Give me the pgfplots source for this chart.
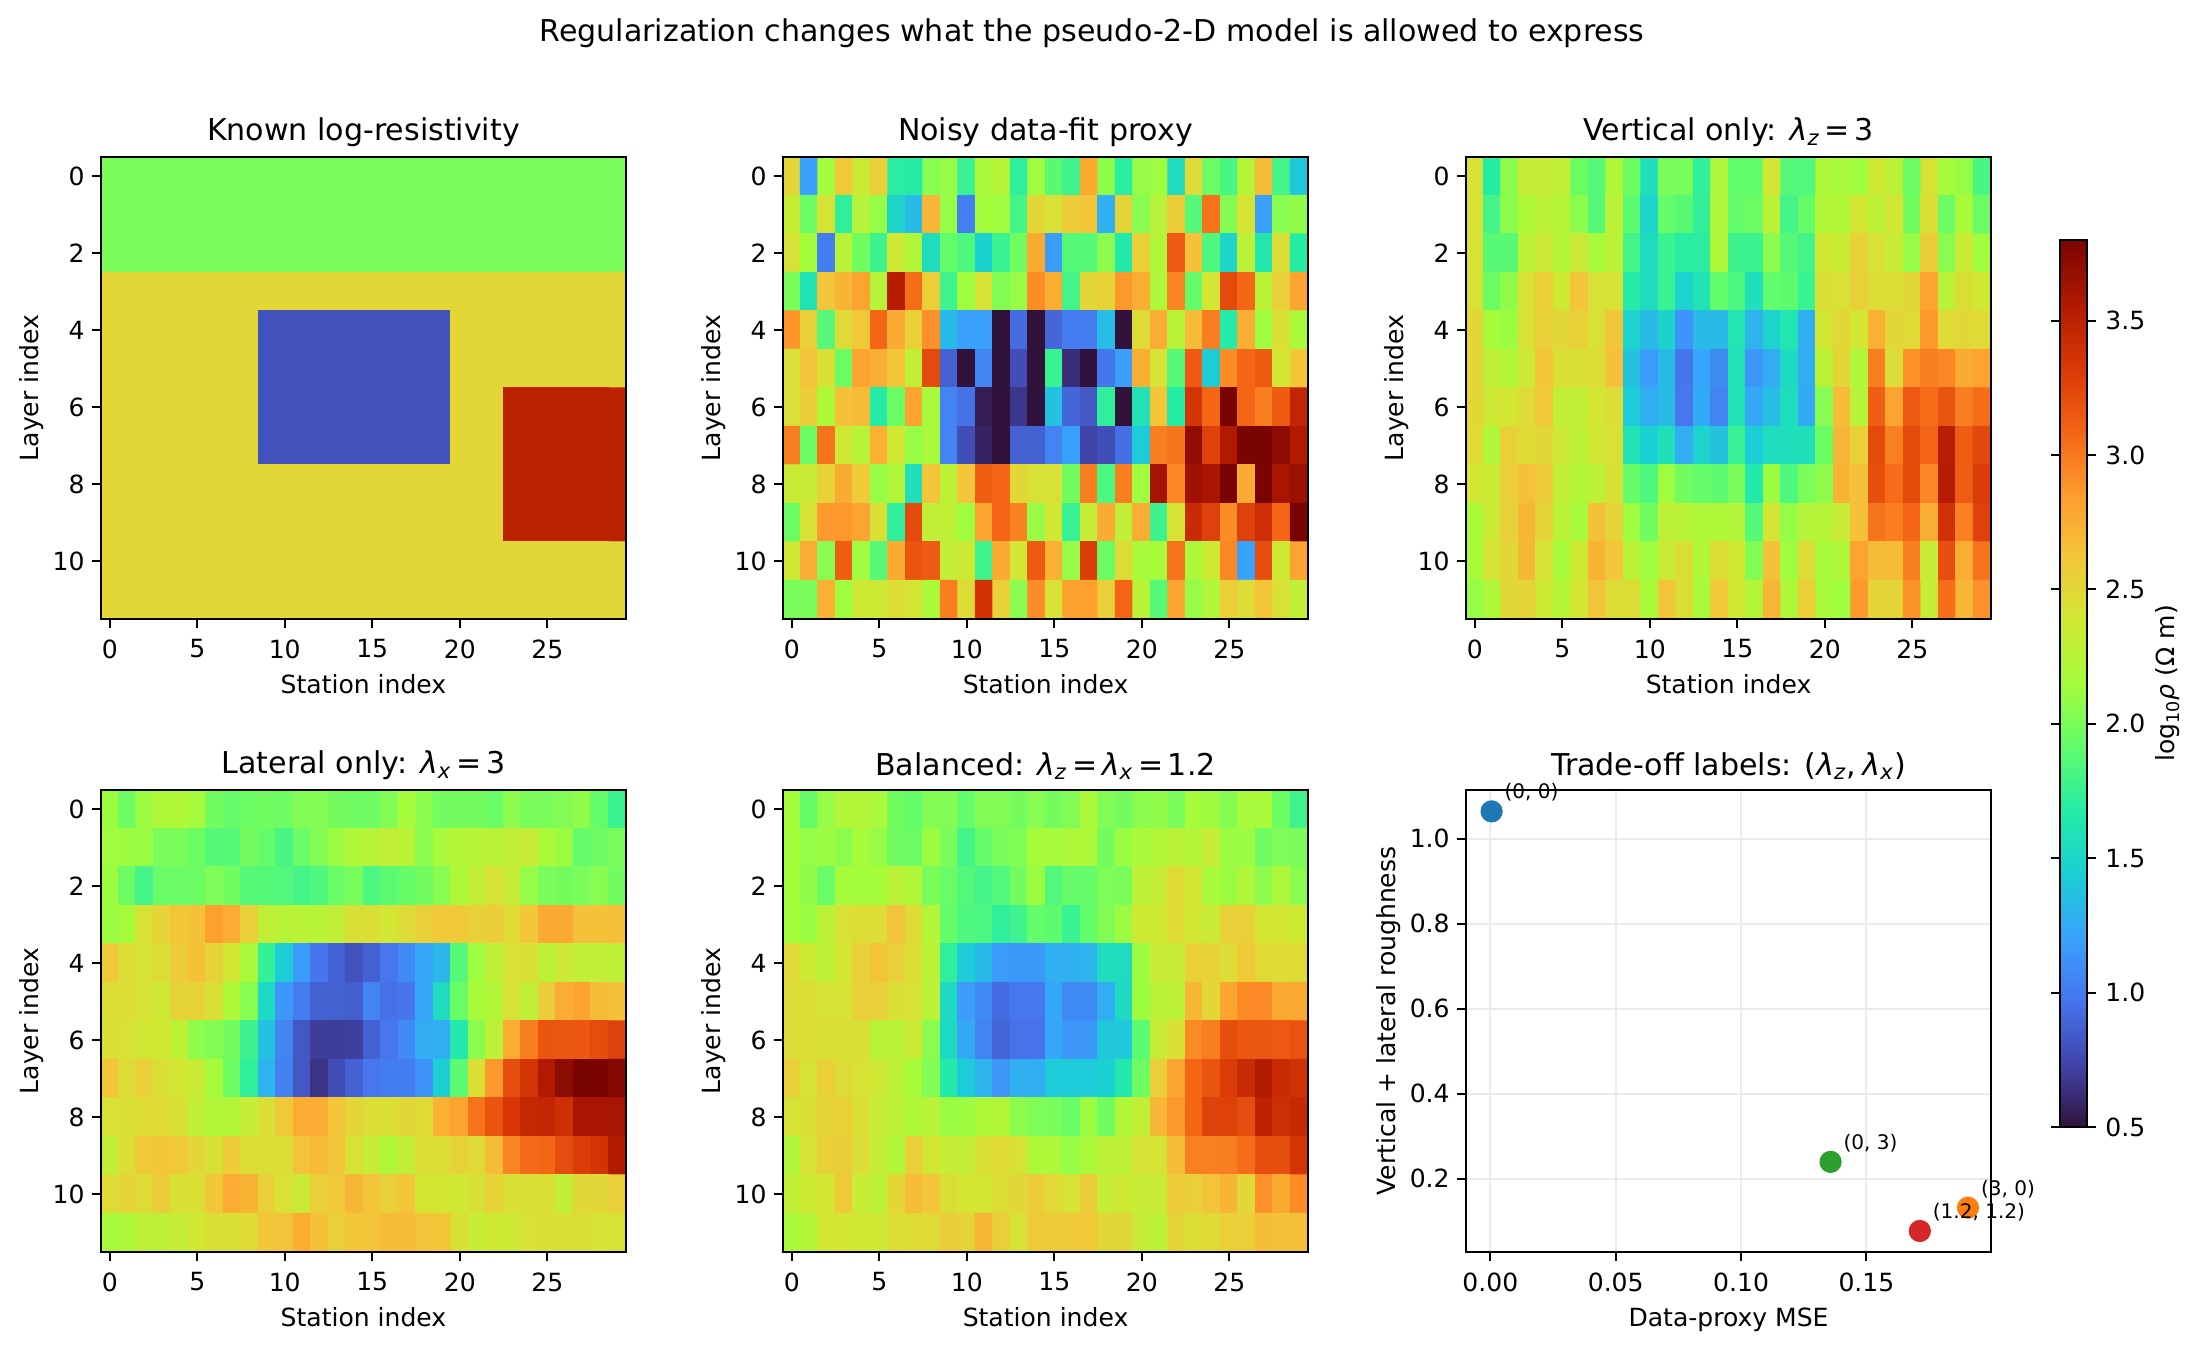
\documentclass[border=0pt]{standalone}
\usepackage{fontspec}
\setmainfont{DejaVu Sans}
\usepackage{pgfplots}
\pgfplotsset{compat=1.18}
\definecolor{tabblue}{RGB}{31,119,180}
\definecolor{taborange}{RGB}{255,127,14}
\definecolor{tabgreen}{RGB}{44,160,44}
\definecolor{tabred}{RGB}{214,39,40}
\pgfplotsset{
  colormap={turbo}{rgb255=(48,18,59) rgb255=(65,69,171) rgb255=(70,117,237) rgb255=(57,162,252) rgb255=(27,207,212) rgb255=(36,236,166) rgb255=(97,252,108) rgb255=(164,252,59) rgb255=(209,232,52) rgb255=(243,198,58) rgb255=(254,155,45) rgb255=(243,99,21) rgb255=(217,56,6) rgb255=(177,25,1) rgb255=(122,4,2)},
  colormap name=turbo,
  common/.style={
    scale only axis, width=189bp, height=166.3bp,
    axis line style={line width=0.72bp}, tick style={black,line width=0.72bp},
    major tick length=3.2bp, tick align=outside, xtick pos=bottom, ytick pos=left,
    ticklabel style={font=\fontsize{9.05}{11}\selectfont},
    label style={font=\fontsize{9.05}{11}\selectfont},
    title style={font=\fontsize{10.86}{13}\selectfont, yshift=-5.8bp},
    /pgf/number format/assume math mode=true,
    xlabel style={yshift=1bp}, ylabel style={yshift=-3.6bp},
    xticklabel style={yshift=-0.7bp}, yticklabel style={xshift=0.8bp},
  },
  hmap/.style={common, axis on top,
    y dir=reverse, xmin=-0.5, xmax=29.5, ymin=-0.5, ymax=11.5,
    xtick={0,5,10,15,20,25}, ytick={0,2,4,6,8,10},
    xlabel={Station index}, ylabel={Layer index},
    point meta min=0.5, point meta max=3.8,
  },
  hm/.style={matrix plot*, mesh/cols=30, mesh/ordering=x varies, point meta=\thisrowno{0}},
  /pgfplots/table/tb/.style={row sep=crcr, header=false, x expr={\coordindex-30*floor((\coordindex+0.5)/30)}, y expr={floor((\coordindex+0.5)/30)}},
}
\tikzset{lab/.style={anchor=south west, inner sep=0pt, font=\fontsize{7.24}{9}\selectfont}}
\newcommand\lam{\textit{λ}}
\newcommand\eqq{\hspace{0.15em}=\hspace{0.15em}}
\def\px{0.36bp}
\begin{document}
\begin{tikzpicture}[x=\px,y=\px]
\path[use as bounding box] (0,0) rectangle (2200,1345);
\node[font=\fontsize{10.86}{13}\selectfont] at (1092,1312) {Regularization changes what the pseudo-2-D model is allowed to express};

% Panel 1
\begin{axis}[hmap, at={(36.36bp,261.36bp)}, anchor=south west, title={Known log-resistivity}]
\addplot[hm] table[tb] {
2.0\\2.0\\2.0\\2.0\\2.0\\2.0\\2.0\\2.0\\2.0\\2.0\\2.0\\2.0\\2.0\\2.0\\2.0\\2.0\\2.0\\2.0\\2.0\\2.0\\2.0\\2.0\\2.0\\2.0\\2.0\\2.0\\2.0\\2.0\\2.0\\2.0\\
2.0\\2.0\\2.0\\2.0\\2.0\\2.0\\2.0\\2.0\\2.0\\2.0\\2.0\\2.0\\2.0\\2.0\\2.0\\2.0\\2.0\\2.0\\2.0\\2.0\\2.0\\2.0\\2.0\\2.0\\2.0\\2.0\\2.0\\2.0\\2.0\\2.0\\
2.0\\2.0\\2.0\\2.0\\2.0\\2.0\\2.0\\2.0\\2.0\\2.0\\2.0\\2.0\\2.0\\2.0\\2.0\\2.0\\2.0\\2.0\\2.0\\2.0\\2.0\\2.0\\2.0\\2.0\\2.0\\2.0\\2.0\\2.0\\2.0\\2.0\\
2.5\\2.5\\2.5\\2.5\\2.5\\2.5\\2.5\\2.5\\2.5\\2.5\\2.5\\2.5\\2.5\\2.5\\2.5\\2.5\\2.5\\2.5\\2.5\\2.5\\2.5\\2.5\\2.5\\2.5\\2.5\\2.5\\2.5\\2.5\\2.5\\2.5\\
2.5\\2.5\\2.5\\2.5\\2.5\\2.5\\2.5\\2.5\\2.5\\0.8\\0.8\\0.8\\0.8\\0.8\\0.8\\0.8\\0.8\\0.8\\0.8\\0.8\\2.5\\2.5\\2.5\\2.5\\2.5\\2.5\\2.5\\2.5\\2.5\\2.5\\
2.5\\2.5\\2.5\\2.5\\2.5\\2.5\\2.5\\2.5\\2.5\\0.8\\0.8\\0.8\\0.8\\0.8\\0.8\\0.8\\0.8\\0.8\\0.8\\0.8\\2.5\\2.5\\2.5\\2.5\\2.5\\2.5\\2.5\\2.5\\2.5\\2.5\\
2.5\\2.5\\2.5\\2.5\\2.5\\2.5\\2.5\\2.5\\2.5\\0.8\\0.8\\0.8\\0.8\\0.8\\0.8\\0.8\\0.8\\0.8\\0.8\\0.8\\2.5\\2.5\\2.5\\3.5\\3.5\\3.5\\3.5\\3.5\\3.5\\3.5\\
2.5\\2.5\\2.5\\2.5\\2.5\\2.5\\2.5\\2.5\\2.5\\0.8\\0.8\\0.8\\0.8\\0.8\\0.8\\0.8\\0.8\\0.8\\0.8\\0.8\\2.5\\2.5\\2.5\\3.5\\3.5\\3.5\\3.5\\3.5\\3.5\\3.5\\
2.5\\2.5\\2.5\\2.5\\2.5\\2.5\\2.5\\2.5\\2.5\\2.5\\2.5\\2.5\\2.5\\2.5\\2.5\\2.5\\2.5\\2.5\\2.5\\2.5\\2.5\\2.5\\2.5\\3.5\\3.5\\3.5\\3.5\\3.5\\3.5\\3.5\\
2.5\\2.5\\2.5\\2.5\\2.5\\2.5\\2.5\\2.5\\2.5\\2.5\\2.5\\2.5\\2.5\\2.5\\2.5\\2.5\\2.5\\2.5\\2.5\\2.5\\2.5\\2.5\\2.5\\3.5\\3.5\\3.5\\3.5\\3.5\\3.5\\3.5\\
2.5\\2.5\\2.5\\2.5\\2.5\\2.5\\2.5\\2.5\\2.5\\2.5\\2.5\\2.5\\2.5\\2.5\\2.5\\2.5\\2.5\\2.5\\2.5\\2.5\\2.5\\2.5\\2.5\\2.5\\2.5\\2.5\\2.5\\2.5\\2.5\\2.5\\
2.5\\2.5\\2.5\\2.5\\2.5\\2.5\\2.5\\2.5\\2.5\\2.5\\2.5\\2.5\\2.5\\2.5\\2.5\\2.5\\2.5\\2.5\\2.5\\2.5\\2.5\\2.5\\2.5\\2.5\\2.5\\2.5\\2.5\\2.5\\2.5\\2.5\\
};
\end{axis}

% Panel 2
\begin{axis}[hmap, at={(281.88bp,261.36bp)}, anchor=south west, title={Noisy data-fit proxy}]
\addplot[hm] table[tb] {
2.5\\1.2\\2.15\\2.6\\2.35\\2.55\\1.7\\1.68\\2.05\\2.1\\1.75\\2.18\\2.25\\1.72\\2.13\\1.88\\1.78\\2.78\\2.07\\1.7\\2.1\\2.13\\1.55\\2.47\\1.95\\1.82\\2.25\\2.68\\1.8\\1.4\\
2.32\\1.95\\2.42\\1.72\\2.25\\2.1\\1.5\\1.33\\2.7\\2.1\\1.03\\2.15\\2.13\\1.8\\2.5\\2.43\\2.58\\2.62\\1.28\\2.52\\2.05\\2.25\\2.57\\1.87\\3.03\\2.03\\2.42\\1.2\\2.05\\2.08\\
2.43\\2.15\\1.02\\2.26\\1.97\\1.77\\2.38\\2.22\\1.55\\1.92\\1.84\\1.47\\1.76\\1.97\\2.78\\1.18\\1.87\\1.87\\2.06\\1.65\\2.55\\2.22\\3.14\\2.65\\1.84\\1.5\\2.27\\1.63\\2.46\\1.68\\
2.0\\1.6\\2.62\\2.72\\2.8\\2.25\\3.53\\3.05\\2.56\\1.78\\2.13\\2.43\\2.03\\2.1\\2.92\\2.75\\1.8\\2.5\\2.54\\2.87\\2.75\\2.2\\2.95\\1.93\\2.4\\3.23\\3.08\\2.27\\2.55\\2.8\\
2.88\\2.55\\1.87\\2.48\\2.6\\3.08\\2.77\\2.55\\2.9\\1.33\\1.2\\1.2\\0.5\\0.93\\0.5\\0.9\\1.0\\1.0\\1.35\\0.5\\2.47\\2.75\\2.26\\2.68\\2.98\\1.67\\2.75\\2.13\\2.44\\2.17\\
2.43\\2.63\\2.45\\1.95\\2.8\\2.75\\2.62\\2.3\\3.23\\0.87\\0.5\\1.05\\0.5\\0.78\\0.5\\1.76\\0.63\\0.5\\0.97\\1.2\\2.75\\2.42\\1.87\\3.14\\1.43\\2.92\\3.08\\3.14\\2.4\\2.62\\
2.43\\2.58\\2.19\\2.65\\2.68\\1.68\\1.95\\2.8\\2.17\\1.05\\0.95\\0.55\\0.5\\0.67\\0.5\\1.38\\0.9\\0.83\\1.72\\0.5\\1.6\\2.62\\1.68\\3.35\\3.08\\3.8\\3.08\\2.98\\3.14\\3.47\\
2.98\\1.95\\3.03\\2.38\\2.26\\2.74\\2.38\\2.1\\2.17\\1.05\\0.78\\0.58\\0.5\\0.87\\0.87\\1.05\\1.2\\0.73\\0.78\\0.94\\1.42\\2.98\\3.02\\3.7\\3.28\\3.56\\3.8\\3.8\\3.72\\3.56\\
2.35\\2.35\\2.53\\2.77\\2.58\\2.1\\2.22\\1.57\\2.62\\2.27\\2.62\\3.12\\3.08\\2.5\\2.43\\2.43\\1.97\\2.98\\1.83\\2.98\\2.13\\3.62\\2.94\\3.64\\3.6\\3.8\\2.77\\3.8\\3.6\\3.66\\
1.95\\2.43\\2.86\\2.86\\2.8\\2.45\\1.72\\3.23\\2.3\\2.28\\2.13\\2.8\\3.08\\2.96\\2.1\\2.38\\1.75\\2.32\\2.77\\2.3\\2.75\\1.77\\2.42\\3.42\\3.28\\2.92\\3.28\\3.4\\3.08\\3.8\\
2.37\\2.75\\2.05\\3.12\\2.13\\1.87\\2.77\\3.18\\3.14\\2.3\\2.37\\1.78\\2.77\\2.4\\3.14\\2.74\\2.1\\3.3\\1.95\\2.47\\2.17\\2.17\\3.03\\2.18\\2.37\\2.94\\1.2\\3.22\\2.37\\2.8\\
2.0\\2.0\\2.74\\2.13\\2.36\\2.37\\2.46\\2.4\\2.17\\2.98\\2.47\\3.37\\2.55\\2.06\\2.92\\2.43\\2.83\\2.83\\2.56\\3.08\\2.26\\1.87\\2.8\\2.1\\2.22\\2.55\\2.46\\2.62\\2.43\\2.3\\
};
\end{axis}

% Panel 3
\begin{axis}[hmap, at={(527.76bp,261.36bp)}, anchor=south west, title={Vertical only: \lam\textsubscript{\textit{z}}\eqq 3}]
\addplot[hm] table[tb] {
2.43\\1.68\\2.06\\2.33\\2.33\\2.3\\1.95\\1.87\\2.2\\1.95\\1.57\\2.0\\2.0\\1.73\\2.2\\1.92\\1.92\\2.4\\1.87\\1.85\\2.2\\2.17\\2.13\\2.37\\2.27\\1.95\\2.42\\2.16\\2.1\\1.82\\
2.43\\1.8\\2.06\\2.2\\2.27\\2.25\\2.06\\1.87\\2.27\\1.9\\1.5\\1.93\\1.88\\1.73\\2.2\\1.92\\1.95\\2.28\\1.8\\1.93\\2.22\\2.22\\2.4\\2.28\\2.4\\1.97\\2.45\\1.95\\2.17\\1.95\\
2.43\\1.88\\1.88\\2.27\\2.36\\2.23\\2.35\\2.17\\2.27\\1.8\\1.55\\1.76\\1.7\\1.7\\2.2\\1.77\\1.77\\2.06\\1.87\\1.8\\2.38\\2.35\\2.53\\2.43\\2.33\\2.1\\2.58\\2.06\\2.35\\2.13\\
2.43\\1.95\\2.08\\2.43\\2.56\\2.37\\2.62\\2.43\\2.43\\1.67\\1.55\\1.76\\1.48\\1.6\\1.92\\1.84\\1.58\\1.92\\1.9\\1.76\\2.45\\2.43\\2.55\\2.46\\2.46\\2.5\\2.8\\2.26\\2.45\\2.38\\
2.5\\2.16\\2.12\\2.43\\2.55\\2.5\\2.55\\2.43\\2.62\\1.48\\1.33\\1.47\\1.13\\1.33\\1.33\\1.62\\1.3\\1.48\\1.63\\1.27\\2.38\\2.5\\2.4\\2.74\\2.5\\2.48\\2.86\\2.48\\2.5\\2.48\\
2.5\\2.3\\2.23\\2.37\\2.62\\2.45\\2.45\\2.46\\2.65\\1.38\\1.18\\1.33\\0.97\\1.22\\1.08\\1.6\\1.15\\1.26\\1.53\\1.26\\2.28\\2.52\\2.2\\2.98\\2.46\\2.9\\2.98\\2.94\\2.77\\2.8\\
2.5\\2.36\\2.4\\2.47\\2.6\\2.3\\2.3\\2.4\\2.46\\1.42\\1.27\\1.33\\0.98\\1.25\\1.05\\1.6\\1.24\\1.35\\1.55\\1.25\\2.05\\2.68\\2.25\\3.12\\2.8\\3.14\\3.05\\3.17\\2.98\\3.05\\
2.48\\2.22\\2.55\\2.47\\2.5\\2.36\\2.28\\2.38\\2.43\\1.6\\1.45\\1.58\\1.26\\1.48\\1.38\\1.75\\1.43\\1.56\\1.57\\1.57\\1.95\\2.7\\2.55\\3.23\\2.97\\3.23\\3.08\\3.52\\3.13\\3.24\\
2.4\\2.35\\2.56\\2.65\\2.57\\2.3\\2.23\\2.27\\2.44\\1.93\\1.84\\2.13\\1.97\\1.93\\1.9\\2.0\\1.65\\2.12\\1.84\\2.0\\2.07\\2.73\\2.65\\3.2\\3.05\\3.23\\2.94\\3.54\\3.13\\3.3\\
2.17\\2.36\\2.55\\2.7\\2.52\\2.27\\2.17\\2.65\\2.52\\2.13\\1.97\\2.28\\2.26\\2.2\\2.2\\2.23\\1.87\\2.4\\2.1\\2.25\\2.25\\2.35\\2.65\\3.02\\2.98\\3.08\\2.75\\3.38\\2.97\\3.28\\
2.17\\2.42\\2.5\\2.7\\2.43\\2.17\\2.37\\2.73\\2.62\\2.27\\2.13\\2.35\\2.45\\2.2\\2.47\\2.38\\2.03\\2.65\\2.13\\2.47\\2.17\\2.2\\2.8\\2.68\\2.68\\2.98\\2.33\\3.2\\2.75\\3.02\\
2.1\\2.2\\2.5\\2.52\\2.37\\2.24\\2.4\\2.62\\2.47\\2.47\\2.17\\2.62\\2.45\\2.17\\2.6\\2.38\\2.23\\2.7\\2.2\\2.56\\2.17\\2.13\\2.86\\2.52\\2.52\\2.9\\2.33\\3.05\\2.7\\2.9\\
};
\end{axis}

% Panel 4
\begin{axis}[hmap, at={(36.36bp,33.48bp)}, anchor=south west, title={Lateral only: \lam\textsubscript{\textit{x}}\eqq 3}]
\addplot[hm] table[tb] {
2.12\\1.96\\2.12\\2.2\\2.2\\2.16\\1.97\\1.93\\1.95\\1.97\\1.96\\2.03\\2.03\\1.98\\1.96\\1.96\\2.03\\2.16\\2.06\\1.97\\1.98\\1.98\\1.94\\2.06\\2.0\\2.0\\2.03\\2.08\\1.92\\1.76\\
2.13\\2.12\\2.12\\2.0\\2.0\\1.95\\1.87\\1.87\\1.98\\1.92\\1.82\\1.94\\2.03\\2.12\\2.2\\2.25\\2.3\\2.26\\2.06\\2.18\\2.23\\2.25\\2.27\\2.3\\2.33\\2.18\\2.12\\1.92\\1.96\\2.0\\
2.12\\1.96\\1.8\\1.94\\1.94\\1.95\\2.02\\1.97\\1.87\\1.86\\1.85\\1.8\\1.84\\1.94\\2.0\\1.83\\1.89\\1.93\\1.98\\2.05\\2.2\\2.3\\2.42\\2.33\\2.1\\2.0\\1.98\\2.0\\2.05\\1.97\\
2.12\\2.16\\2.43\\2.54\\2.62\\2.65\\2.83\\2.76\\2.55\\2.3\\2.26\\2.26\\2.25\\2.3\\2.45\\2.45\\2.4\\2.47\\2.55\\2.6\\2.6\\2.56\\2.58\\2.48\\2.62\\2.78\\2.78\\2.65\\2.65\\2.66\\
2.6\\2.47\\2.43\\2.47\\2.58\\2.65\\2.52\\2.4\\2.17\\1.74\\1.43\\1.18\\0.97\\0.88\\0.8\\0.88\\0.98\\1.08\\1.22\\1.32\\1.87\\2.13\\2.28\\2.43\\2.45\\2.28\\2.36\\2.3\\2.3\\2.28\\
2.45\\2.46\\2.43\\2.37\\2.53\\2.53\\2.44\\2.2\\2.05\\1.52\\1.15\\1.02\\0.88\\0.87\\0.86\\1.05\\0.95\\0.97\\1.22\\1.55\\1.94\\2.16\\2.22\\2.43\\2.3\\2.58\\2.75\\2.8\\2.68\\2.65\\
2.44\\2.43\\2.38\\2.38\\2.28\\2.07\\2.03\\1.98\\1.77\\1.38\\1.05\\0.83\\0.7\\0.7\\0.71\\0.88\\0.98\\1.08\\1.26\\1.26\\1.66\\2.05\\2.27\\2.76\\2.98\\3.17\\3.16\\3.15\\3.22\\3.28\\
2.63\\2.47\\2.56\\2.45\\2.4\\2.35\\2.16\\1.96\\1.72\\1.3\\1.03\\0.83\\0.66\\0.78\\0.88\\0.98\\1.02\\1.02\\1.12\\1.45\\1.89\\2.45\\2.87\\3.2\\3.35\\3.56\\3.72\\3.8\\3.8\\3.75\\
2.43\\2.45\\2.47\\2.48\\2.44\\2.3\\2.22\\2.22\\2.33\\2.45\\2.6\\2.76\\2.76\\2.62\\2.5\\2.46\\2.45\\2.5\\2.48\\2.74\\2.8\\3.03\\3.17\\3.33\\3.45\\3.47\\3.4\\3.6\\3.6\\3.6\\
2.3\\2.46\\2.6\\2.62\\2.6\\2.5\\2.44\\2.58\\2.47\\2.46\\2.46\\2.63\\2.68\\2.62\\2.42\\2.33\\2.22\\2.3\\2.46\\2.46\\2.54\\2.48\\2.68\\2.95\\3.06\\3.08\\3.22\\3.3\\3.36\\3.55\\
2.48\\2.52\\2.48\\2.58\\2.45\\2.44\\2.62\\2.76\\2.73\\2.55\\2.43\\2.35\\2.56\\2.6\\2.7\\2.63\\2.55\\2.62\\2.4\\2.4\\2.38\\2.44\\2.54\\2.44\\2.44\\2.45\\2.3\\2.5\\2.5\\2.56\\
2.17\\2.2\\2.28\\2.28\\2.32\\2.38\\2.44\\2.44\\2.48\\2.62\\2.63\\2.76\\2.65\\2.55\\2.62\\2.62\\2.68\\2.68\\2.63\\2.62\\2.45\\2.33\\2.37\\2.36\\2.43\\2.44\\2.44\\2.44\\2.43\\2.42\\
};
\end{axis}

% Panel 5
\begin{axis}[hmap, at={(281.88bp,33.48bp)}, anchor=south west, title={Balanced: \lam\textsubscript{\textit{z}}\eqq\lam\textsubscript{\textit{x}}\eqq 1.2}]
\addplot[hm] table[tb] {
2.15\\1.93\\2.1\\2.22\\2.22\\2.18\\1.97\\1.92\\2.03\\2.03\\1.92\\2.03\\2.03\\1.98\\2.05\\1.98\\2.03\\2.18\\2.03\\1.98\\2.06\\2.08\\2.0\\2.16\\2.12\\2.04\\2.17\\2.17\\1.95\\1.78\\
2.15\\2.1\\2.12\\2.06\\2.16\\2.1\\1.96\\1.95\\2.12\\2.0\\1.8\\1.93\\2.0\\2.02\\2.16\\2.16\\2.2\\2.2\\1.98\\2.12\\2.18\\2.23\\2.27\\2.22\\2.33\\2.12\\2.12\\1.96\\2.02\\2.0\\
2.15\\2.08\\1.94\\2.16\\2.15\\2.15\\2.27\\2.2\\2.0\\1.94\\1.85\\1.8\\1.85\\1.98\\2.12\\1.85\\1.93\\1.93\\2.02\\2.0\\2.27\\2.32\\2.48\\2.4\\2.17\\2.12\\2.2\\2.06\\2.2\\2.06\\
2.15\\2.12\\2.27\\2.43\\2.46\\2.46\\2.63\\2.48\\2.23\\1.93\\1.84\\1.83\\1.72\\1.78\\1.92\\1.9\\1.76\\1.92\\2.03\\2.12\\2.37\\2.37\\2.48\\2.38\\2.35\\2.55\\2.56\\2.4\\2.4\\2.37\\
2.48\\2.37\\2.28\\2.4\\2.55\\2.63\\2.56\\2.45\\2.26\\1.72\\1.43\\1.33\\1.17\\1.16\\1.16\\1.28\\1.28\\1.3\\1.55\\1.55\\2.12\\2.33\\2.35\\2.55\\2.53\\2.46\\2.6\\2.48\\2.48\\2.48\\
2.47\\2.47\\2.42\\2.42\\2.55\\2.55\\2.45\\2.43\\2.27\\1.53\\1.18\\1.08\\0.93\\0.98\\0.98\\1.23\\1.08\\1.08\\1.27\\1.53\\2.12\\2.27\\2.27\\2.7\\2.5\\2.8\\2.92\\2.93\\2.78\\2.78\\
2.46\\2.46\\2.44\\2.44\\2.44\\2.26\\2.26\\2.35\\2.06\\1.53\\1.24\\1.05\\0.9\\0.96\\0.96\\1.23\\1.15\\1.15\\1.4\\1.41\\1.9\\2.32\\2.45\\2.93\\2.98\\3.2\\3.16\\3.16\\3.14\\3.18\\
2.55\\2.42\\2.56\\2.47\\2.43\\2.37\\2.28\\2.16\\2.03\\1.66\\1.42\\1.3\\1.15\\1.28\\1.27\\1.42\\1.42\\1.42\\1.45\\1.64\\1.96\\2.56\\2.8\\3.08\\3.17\\3.3\\3.42\\3.55\\3.43\\3.38\\
2.42\\2.44\\2.53\\2.55\\2.45\\2.33\\2.27\\2.2\\2.25\\2.12\\2.12\\2.2\\2.22\\2.06\\2.02\\2.0\\1.94\\2.12\\1.97\\2.22\\2.3\\2.7\\2.87\\3.08\\3.28\\3.28\\3.22\\3.5\\3.4\\3.44\\
2.22\\2.43\\2.55\\2.58\\2.46\\2.33\\2.22\\2.55\\2.4\\2.33\\2.3\\2.45\\2.48\\2.42\\2.2\\2.2\\2.1\\2.18\\2.27\\2.28\\2.43\\2.42\\2.68\\2.97\\2.97\\2.98\\3.05\\3.2\\3.2\\3.35\\
2.3\\2.37\\2.4\\2.6\\2.33\\2.27\\2.5\\2.68\\2.62\\2.45\\2.4\\2.4\\2.47\\2.5\\2.58\\2.49\\2.42\\2.58\\2.33\\2.37\\2.33\\2.35\\2.57\\2.55\\2.63\\2.72\\2.5\\2.9\\2.78\\2.92\\
2.17\\2.23\\2.4\\2.4\\2.38\\2.38\\2.46\\2.47\\2.48\\2.58\\2.52\\2.7\\2.55\\2.43\\2.6\\2.57\\2.6\\2.6\\2.5\\2.5\\2.33\\2.28\\2.53\\2.46\\2.48\\2.56\\2.56\\2.67\\2.64\\2.65\\
};
\end{axis}

% Panel 6
\begin{axis}[common, at={(527.76bp,33.48bp)}, anchor=south west,
  title={Trade-off labels: (\lam\textsubscript{\textit{z}},\hspace{0.2em}\lam\textsubscript{\textit{x}})},
  xmin=-0.0097, xmax=0.1997, ymin=0.0276, ymax=1.114,
  xtick={0,0.05,0.10,0.15}, ytick={0.2,0.4,0.6,0.8,1.0},
  /pgf/number format/fixed, /pgf/number format/fixed zerofill,
  xticklabel style={/pgf/number format/precision=2},
  yticklabel style={/pgf/number format/precision=1},
  scaled ticks=false,
  grid=major, grid style={line width=0.72bp, black!8},
  xlabel={Data-proxy MSE}, ylabel={Vertical + lateral roughness}, clip=false]
\addplot[only marks, mark=*, mark size=3.8bp, color=tabblue, mark options={fill=tabblue, line width=0.4bp}] coordinates {(0.0005,1.0638)};
\addplot[only marks, mark=*, mark size=3.8bp, color=taborange, mark options={fill=taborange, line width=0.4bp}] coordinates {(0.1905,0.1317)};
\addplot[only marks, mark=*, mark size=3.8bp, color=tabgreen, mark options={fill=tabgreen, line width=0.4bp}] coordinates {(0.1357,0.2395)};
\addplot[only marks, mark=*, mark size=3.8bp, color=tabred, mark options={fill=tabred, line width=0.4bp}] coordinates {(0.1713,0.077)};
\coordinate (pa) at (axis cs:0.0005,1.0638);
\coordinate (pb) at (axis cs:0.1905,0.1317);
\coordinate (pc) at (axis cs:0.1357,0.2395);
\coordinate (pd) at (axis cs:0.1713,0.077);
\end{axis}
\node[lab] at ([xshift=4.5bp,yshift=3.4bp]pa) {(0, 0)};
\node[lab] at ([xshift=4.5bp,yshift=3.4bp]pb) {(3, 0)};
\node[lab] at ([xshift=4.5bp,yshift=3.4bp]pc) {(0, 3)};
\node[lab] at ([xshift=4.5bp,yshift=3.4bp]pd) {(1.2, 1.2)};

% Colorbar
\begin{axis}[hide axis, scale only axis, width=9.6bp, height=319.3bp, at={(741.6bp,78.48bp)}, anchor=south west,
  xmin=0, xmax=1, ymin=0, ymax=1, point meta min=0.5, point meta max=3.8,
  colorbar, colorbar style={at={(0,0)}, anchor=south west, width=9.6bp, height=319.3bp,
    ytick={0.5,1,1.5,2,2.5,3,3.5}, major tick length=3.2bp, tick align=outside,
    axis line style={line width=0.72bp}, tick style={black,line width=0.72bp},
    /pgf/number format/assume math mode=true, /pgf/number format/fixed, /pgf/number format/fixed zerofill, /pgf/number format/precision=1,
    yticklabel style={font=\fontsize{9.05}{11}\selectfont},
    ylabel={log\textsubscript{10}\textit{ρ} (Ω m)}, ylabel style={font=\fontsize{9.05}{11}\selectfont, yshift=3bp}}]
\addplot[draw=none] coordinates {(0,0)};
\end{axis}
\end{tikzpicture}
\end{document}
